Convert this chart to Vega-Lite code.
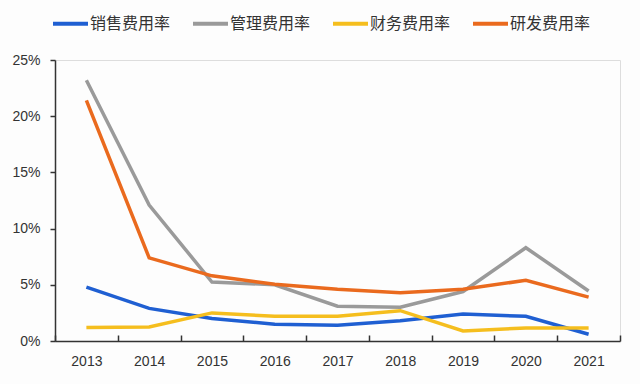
{
  "$schema": "https://vega.github.io/schema/vega-lite/v6.json",
  "width": 565,
  "height": 281,
  "autosize": {"type": "none"},
  "padding": {"left": 55, "top": 60, "right": 20, "bottom": 43},
  "background": "#fdfdfd",
  "data": {"values": [
    {"year": "2013", "s": "销售费用率", "v": 0.048},
    {"year": "2014", "s": "销售费用率", "v": 0.029},
    {"year": "2015", "s": "销售费用率", "v": 0.020},
    {"year": "2016", "s": "销售费用率", "v": 0.015},
    {"year": "2017", "s": "销售费用率", "v": 0.014},
    {"year": "2018", "s": "销售费用率", "v": 0.018},
    {"year": "2019", "s": "销售费用率", "v": 0.024},
    {"year": "2020", "s": "销售费用率", "v": 0.022},
    {"year": "2021", "s": "销售费用率", "v": 0.006},
    {"year": "2013", "s": "管理费用率", "v": 0.232},
    {"year": "2014", "s": "管理费用率", "v": 0.121},
    {"year": "2015", "s": "管理费用率", "v": 0.0525},
    {"year": "2016", "s": "管理费用率", "v": 0.050},
    {"year": "2017", "s": "管理费用率", "v": 0.031},
    {"year": "2018", "s": "管理费用率", "v": 0.030},
    {"year": "2019", "s": "管理费用率", "v": 0.044},
    {"year": "2020", "s": "管理费用率", "v": 0.083},
    {"year": "2021", "s": "管理费用率", "v": 0.0445},
    {"year": "2013", "s": "财务费用率", "v": 0.012},
    {"year": "2014", "s": "财务费用率", "v": 0.0125},
    {"year": "2015", "s": "财务费用率", "v": 0.025},
    {"year": "2016", "s": "财务费用率", "v": 0.022},
    {"year": "2017", "s": "财务费用率", "v": 0.022},
    {"year": "2018", "s": "财务费用率", "v": 0.027},
    {"year": "2019", "s": "财务费用率", "v": 0.009},
    {"year": "2020", "s": "财务费用率", "v": 0.0115},
    {"year": "2021", "s": "财务费用率", "v": 0.0115},
    {"year": "2013", "s": "研发费用率", "v": 0.214},
    {"year": "2014", "s": "研发费用率", "v": 0.074},
    {"year": "2015", "s": "研发费用率", "v": 0.058},
    {"year": "2016", "s": "研发费用率", "v": 0.0505},
    {"year": "2017", "s": "研发费用率", "v": 0.046},
    {"year": "2018", "s": "研发费用率", "v": 0.043},
    {"year": "2019", "s": "研发费用率", "v": 0.046},
    {"year": "2020", "s": "研发费用率", "v": 0.054},
    {"year": "2021", "s": "研发费用率", "v": 0.039}
  ]},
  "mark": {"type": "line", "strokeWidth": 3.5},
  "encoding": {
    "x": {
      "field": "year", "type": "ordinal",
      "scale": {"type": "band", "paddingInner": 0, "paddingOuter": 0},
      "axis": {
        "title": null, "labelAngle": 0, "tickBand": "extent",
        "domainColor": "#333333", "domainWidth": 1.5,
        "tickColor": "#333333", "tickSize": -6, "tickWidth": 1.5,
        "labelPadding": 19, "labelFont": "Liberation Sans", "labelFontSize": 14, "labelColor": "#333333",
        "grid": false
      }
    },
    "y": {
      "field": "v", "type": "quantitative",
      "scale": {"domain": [0, 0.25]},
      "axis": {
        "title": null, "format": ".0%", "values": [0, 0.05, 0.1, 0.15, 0.2, 0.25],
        "grid": false, "domainColor": "#333333", "domainWidth": 1.5,
        "tickColor": "#333333", "tickSize": 5, "tickWidth": 1.5,
        "labelPadding": 10, "labelFont": "Liberation Sans", "labelFontSize": 14, "labelColor": "#333333"
      }
    },
    "color": {
      "field": "s", "type": "nominal",
      "scale": {
        "domain": ["销售费用率", "管理费用率", "财务费用率", "研发费用率"],
        "range": ["#1F5FD2", "#9A9A9A", "#F5BE1E", "#EA6A1E"]
      },
      "legend": {
        "title": null, "orient": "none", "direction": "horizontal",
        "legendX": -4, "legendY": -56,
        "symbolType": "stroke", "symbolSize": 1225, "symbolStrokeWidth": 4,
        "labelFont": "Noto Sans CJK SC", "labelFontSize": 16, "labelColor": "#333333",
        "labelOffset": 0, "columnPadding": 14
      }
    }
  }
}
